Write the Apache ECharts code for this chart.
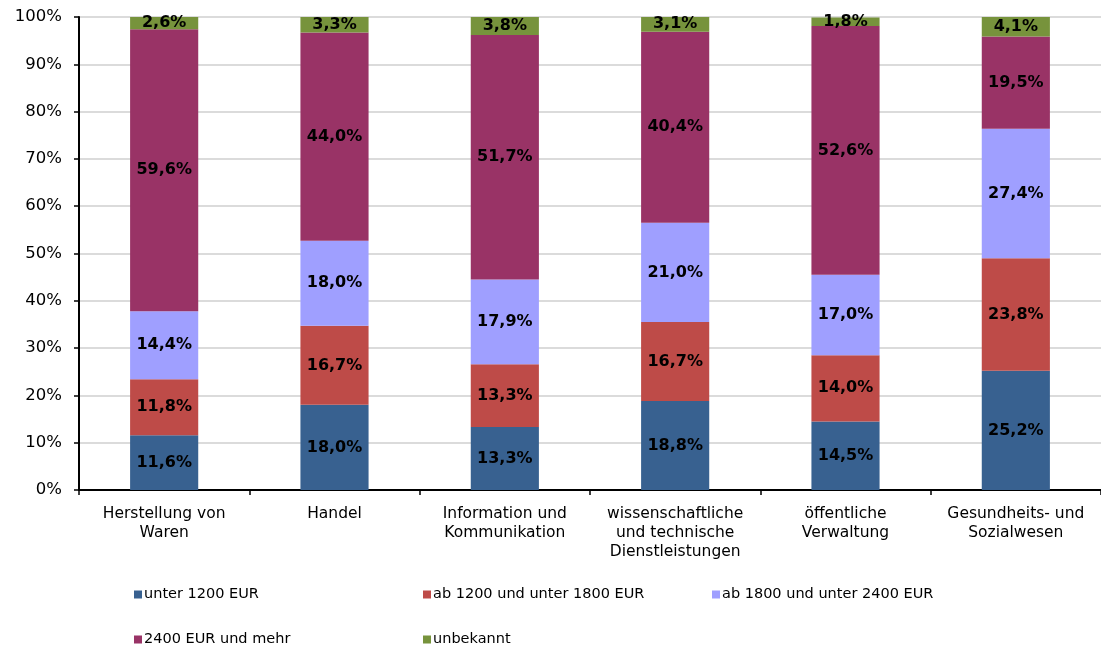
<!DOCTYPE html>
<html>
<head>
<meta charset="utf-8">
<script src="https://cdn.jsdelivr.net/npm/echarts@6/dist/echarts.min.js"></script>
<style>
  html, body { margin: 0; padding: 0; background: #fff; }
  #chart { width: 1101px; height: 650px; }
</style>
</head>
<body>
<div id="chart"></div>
<script>
// Branchen (categories)
const categories = [
  'Herstellung von\nWaren',
  'Handel',
  'Information und\nKommunikation',
  'wissenschaftliche\nund technische\nDienstleistungen',
  'öffentliche\nVerwaltung',
  'Gesundheits- und\nSozialwesen'
];

// Anteile je Einkommensklasse in Prozent
const unter1200 = [11.6, 18.0, 13.3, 18.8, 14.5, 25.2];
const ab1200bis1800 = [11.8, 16.7, 13.3, 16.7, 14.0, 23.8];
const ab1800bis2400 = [14.4, 18.0, 17.9, 21.0, 17.0, 27.4];
const ab2400 = [59.6, 44.0, 51.7, 40.4, 52.6, 19.5];
const unbekannt = [2.6, 3.3, 3.8, 3.1, 1.8, 4.1];

const seriesNames = [
  'unter 1200 EUR',
  'ab 1200 und unter 1800 EUR',
  'ab 1800 und unter 2400 EUR',
  '2400 EUR und mehr',
  'unbekannt'
];
const seriesData = [unter1200, ab1200bis1800, ab1800bis2400, ab2400, unbekannt];
const colors = ['#386190', '#BE4B48', '#9F9FFF', '#993366', '#77933C'];

const FONT = 'DejaVu Sans';

const fmt = v => v.toFixed(1).replace('.', ',') + '%';

const series = seriesNames.map((name, i) => ({
  name,
  type: 'bar',
  stack: 'total',
  barWidth: '40%',
  data: seriesData[i],
  itemStyle: { color: colors[i] },
  label: {
    show: true,
    position: 'inside',
    color: '#000',
    fontFamily: FONT,
    fontWeight: 'bold',
    fontSize: 16,
    formatter: p => fmt(p.value)
  },
  emphasis: { disabled: true }
}));

// Legend laid out in a fixed grid (three columns, two rows)
const legendPos = [
  { left: 134, top: 587 },
  { left: 423, top: 587 },
  { left: 712, top: 587 },
  { left: 134, top: 632 },
  { left: 423, top: 632 }
];
const legends = seriesNames.map((name, i) => ({
  data: [name],
  left: legendPos[i].left,
  top: legendPos[i].top,
  itemWidth: 8,
  itemHeight: 8,
  itemGap: 0,
  icon: 'rect',
  selectedMode: false,
  padding: 0,
  textStyle: { fontFamily: FONT, fontSize: 14.5, color: '#000', padding: [0, 0, 0, -3] }
}));

const chart = echarts.init(document.getElementById('chart'), null, { renderer: 'canvas' });
chart.setOption({
  animation: false,
  color: colors,
  legend: legends,
  grid: { left: 79, right: -4, top: 17, bottom: 160, containLabel: false },
  xAxis: {
    type: 'category',
    data: categories,
    axisLine: { lineStyle: { color: '#000', width: 2 } },
    axisTick: { show: true, alignWithLabel: false, length: 5, lineStyle: { color: '#000', width: 1.5 } },
    axisLabel: {
      interval: 0,
      margin: 14,
      fontFamily: FONT,
      fontSize: 15.5,
      color: '#000',
      lineHeight: 19
    }
  },
  yAxis: {
    type: 'value',
    min: 0,
    max: 100,
    interval: 10,
    axisLine: { show: true, lineStyle: { color: '#000', width: 2 } },
    axisTick: { show: true, length: 5, lineStyle: { color: '#000', width: 1.5 } },
    splitLine: { lineStyle: { color: '#CFCFCF', width: 1.5 } },
    axisLabel: {
      margin: 17,
      fontFamily: FONT,
      fontSize: 16.5,
      color: '#000',
      formatter: v => v + '%'
    }
  },
  series
});
</script>
</body>
</html>
